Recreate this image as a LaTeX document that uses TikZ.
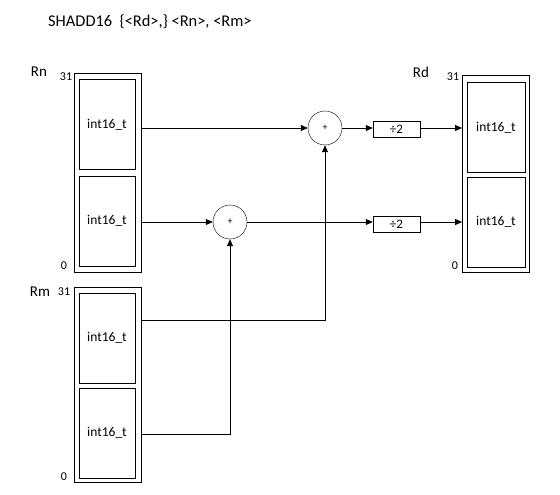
\documentclass[tikz,border=0pt]{standalone}
\usepackage{fontspec}
\setmainfont{Carlito}
\usetikzlibrary{arrows.meta}
\begin{document}
\begin{tikzpicture}[x=1pt,y=-1pt,
  outerbox/.style={draw,line width=0.8pt,minimum width=67pt,inner sep=0pt},
  cell/.style={draw,line width=0.8pt,minimum width=56pt,minimum height=90pt,inner sep=0pt,font=\fontsize{13.5}{15}\selectfont},
  sumnode/.style={draw,circle,minimum size=34pt,inner sep=0pt,font=\fontsize{10}{11}\selectfont},
  divbox/.style={draw,minimum width=47pt,minimum height=16pt,inner sep=0pt,font=\fontsize{13}{14}\selectfont},
  conn/.style={line width=0.8pt},
  arr/.style={conn,-{Triangle[length=7pt,width=6pt]}},
  reglabel/.style={font=\fontsize{15}{17}\selectfont},
  bitlabel/.style={font=\fontsize{12}{14}\selectfont}]
\useasboundingbox (0,0) rectangle (560,495);
\node[anchor=west,inner sep=0pt,font=\fontsize{16.4}{19}\selectfont] (title) at (48,22) {SHADD16\ \ \{<Rd>,\} <Rn>, <Rm>};
% Rn
\node[outerbox,minimum height=199pt] (rn) at (107.5,172.5) {};
\node[cell] (rn1) at (107,124.5) {int16\_t};
\node[cell] (rn0) at (107,221) {int16\_t};
\node[reglabel] (rnl) at (39,72) {Rn};
\node[bitlabel] (rn31) at (66,77) {31};
\node[bitlabel] (rn0l) at (64,266) {0};
% Rm
\node[outerbox,minimum height=195pt] (rm) at (107.5,384.5) {};
\node[cell] (rm1) at (107,338) {int16\_t};
\node[cell] (rm0) at (107,433) {int16\_t};
\node[reglabel] (rml) at (40,292) {Rm};
\node[bitlabel] (rm31) at (64,292) {31};
\node[bitlabel] (rm0l) at (64,477) {0};
% Rd
\node[outerbox,minimum height=197pt] (rd) at (496,173.5) {};
\node[cell,minimum width=58pt] (rd1) at (496,127.5) {int16\_t};
\node[cell,minimum width=58pt] (rd0) at (496,222) {int16\_t};
\node[reglabel] (rdl) at (421,72) {Rd};
\node[bitlabel] (rd31) at (453,77) {31};
\node[bitlabel] (rd0l) at (455,266) {0};
% ops
\node[sumnode] (s1) at (325,128) {+};
\node[sumnode] (s0) at (230,222) {+};
\node[divbox] (d1) at (396.5,129) {÷2};
\node[divbox] (d0) at (396.5,224.5) {÷2};
\coordinate (rmc1) at (325,320);
\coordinate (rmc0) at (230,434);
% connectors
\draw[arr] (rn.east |- s1) -- (s1);
\draw[arr] (rn.east |- s0) -- (s0);
\draw[arr] (s1) -- (d1.west |- s1);
\draw[arr] (s0) -- (d0.west |- s0);
\draw[arr] (d1.east |- s1) -- (rd.west |- s1);
\draw[arr] (d0.east |- s0) -- (rd.west |- s0);
\draw[arr] (rm.east |- rmc1) -- (rmc1) -- (s1);
\draw[arr] (rm.east |- rmc0) -- (rmc0) -- (s0);
\end{tikzpicture}
\end{document}
